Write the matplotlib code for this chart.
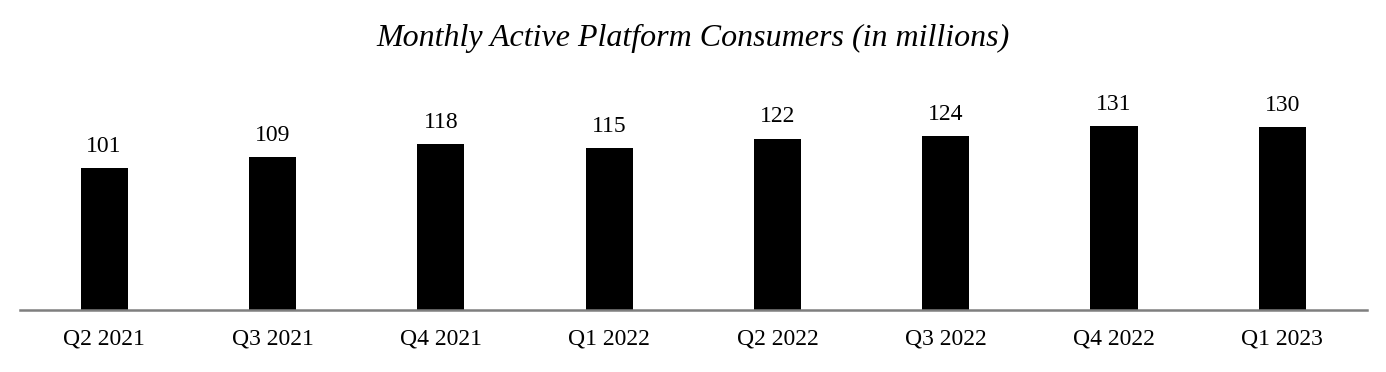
import matplotlib
matplotlib.use("Agg")
import matplotlib.pyplot as plt

categories = ["Q2 2021", "Q3 2021", "Q4 2021", "Q1 2022", "Q2 2022", "Q3 2022", "Q4 2022", "Q1 2023"]
values = [101, 109, 118, 115, 122, 124, 131, 130]

plt.rcParams['font.family'] = ['Liberation Serif', 'DejaVu Serif']

W, H = 1386, 372
fig = plt.figure(figsize=(W / 100, H / 100), dpi=100)
base_y = 309.5
px_per_unit = (309.5 - 126) / 131
ax_top = 60
ax = fig.add_axes([20 / W, (H - base_y) / H, (1366.5 - 20) / W, (base_y - ax_top) / H])
ax.set_ylim(0, (base_y - ax_top) / px_per_unit)
ax.set_xlim(-0.5, 7.5)

x = list(range(len(categories)))
ax.bar(x, values, width=0.28, color="black", zorder=2)
for xi, v in zip(x, values):
    ax.annotate(str(v), (xi, v), xytext=(0, 8), textcoords="offset points",
                ha="center", va="bottom", fontsize=17)

ax.set_xticks(x)
ax.set_xticklabels(categories, fontsize=17)
ax.tick_params(axis="x", length=0, pad=14)
ax.set_yticks([])
for s in ["top", "right", "left"]:
    ax.spines[s].set_visible(False)
ax.spines["bottom"].set_color("#7f7f7f")
ax.spines["bottom"].set_linewidth(1.8)
ax.spines["bottom"].set_zorder(3)

fig.text(0.5, 1 - 38 / H, "Monthly Active Platform Consumers (in millions)",
         ha="center", va="center", fontsize=23, style="italic")

fig.savefig("out.png", dpi=100)
